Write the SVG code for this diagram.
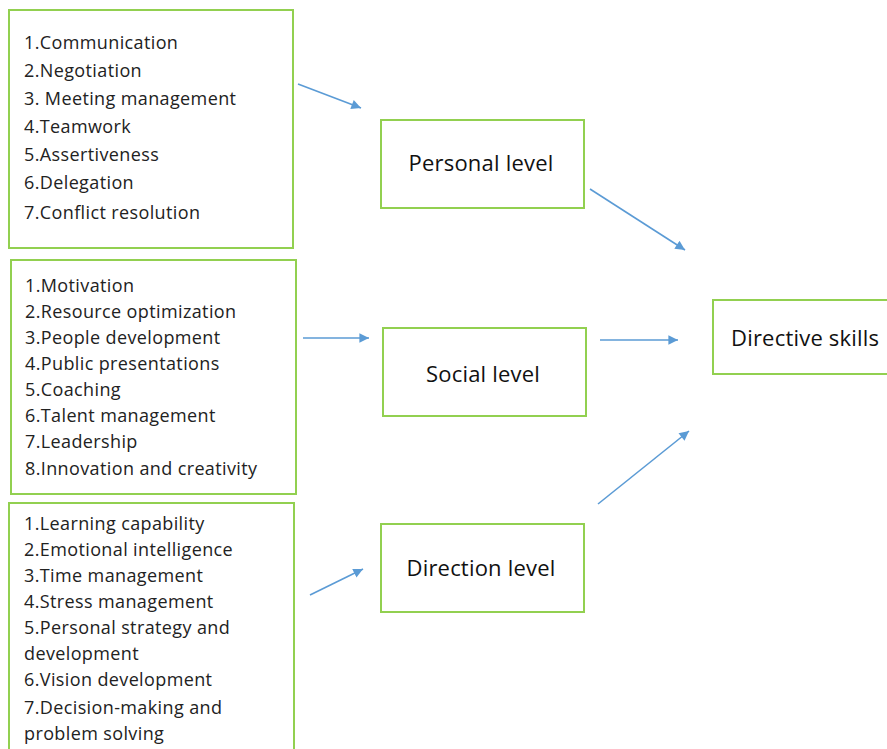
<svg xmlns="http://www.w3.org/2000/svg" width="887" height="749" viewBox="0 0 887 749">
  <defs>
    <marker id="arrowhead" viewBox="0 0 10 10" refX="10" refY="5" markerWidth="6.5" markerHeight="6" orient="auto" markerUnits="strokeWidth">
      <path d="M0,0 L10,5 L0,10 z" fill="#5B9BD5"/>
    </marker>
    <style>
      .box { fill: #ffffff; stroke: #92D050; stroke-width: 2; }
      .list { font-family: "Open Sans", "Noto Sans", sans-serif; font-size: 18px; letter-spacing: 0.38px; fill: #222222; }
      .label { font-family: "Open Sans", "Noto Sans", sans-serif; font-size: 22px; letter-spacing: 0.2px; fill: #111111; }
      .conn { stroke: #5B9BD5; stroke-width: 1.6; fill: none; marker-end: url(#arrowhead); }
    </style>
  </defs>
  <rect width="887" height="749" fill="#ffffff"/>

  <g id="personal-skills">
    <rect class="box" x="9" y="10" width="284" height="238"/>
    <text class="list" x="24" y="49">1.Communication</text>
    <text class="list" x="24" y="77">2.Negotiation</text>
    <text class="list" x="24" y="105">3. Meeting management</text>
    <text class="list" x="24" y="133">4.Teamwork</text>
    <text class="list" x="24" y="161">5.Assertiveness</text>
    <text class="list" x="24" y="189">6.Delegation</text>
    <text class="list" x="24" y="219">7.Conflict resolution</text>
  </g>

  <g id="social-skills">
    <rect class="box" x="11" y="260" width="285" height="234"/>
    <text class="list" x="25" y="292">1.Motivation</text>
    <text class="list" x="25" y="318">2.Resource optimization</text>
    <text class="list" x="25" y="344">3.People development</text>
    <text class="list" x="25" y="370">4.Public presentations</text>
    <text class="list" x="25" y="396">5.Coaching</text>
    <text class="list" x="25" y="422">6.Talent management</text>
    <text class="list" x="25" y="448">7.Leadership</text>
    <text class="list" x="25" y="475">8.Innovation and creativity</text>
  </g>

  <g id="direction-skills">
    <rect class="box" x="9" y="503" width="285" height="260"/>
    <text class="list" x="24" y="530">1.Learning capability</text>
    <text class="list" x="24" y="556">2.Emotional intelligence</text>
    <text class="list" x="24" y="582">3.Time management</text>
    <text class="list" x="24" y="608">4.Stress management</text>
    <text class="list" x="24" y="634">5.Personal strategy and</text>
    <text class="list" x="24" y="660">development</text>
    <text class="list" x="24" y="686">6.Vision development</text>
    <text class="list" x="24" y="714">7.Decision-making and</text>
    <text class="list" x="24" y="740">problem solving</text>
  </g>

  <g id="personal-level">
    <rect class="box" x="381" y="120" width="203" height="88"/>
    <text class="label" x="481" y="171" text-anchor="middle">Personal level</text>
  </g>

  <g id="social-level">
    <rect class="box" x="383" y="328" width="203" height="88"/>
    <text class="label" x="483" y="382" text-anchor="middle">Social level</text>
  </g>

  <g id="direction-level">
    <rect class="box" x="381" y="524" width="203" height="88"/>
    <text class="label" x="481" y="576" text-anchor="middle">Direction level</text>
  </g>

  <g id="directive-skills">
    <rect class="box" x="713" y="300" width="180" height="74"/>
    <text class="label" x="731" y="346">Directive skills</text>
  </g>

  <g id="connectors">
    <line class="conn" x1="298" y1="84" x2="361" y2="108"/>
    <line class="conn" x1="303" y1="338" x2="369" y2="338"/>
    <line class="conn" x1="310" y1="595" x2="363" y2="569"/>
    <line class="conn" x1="590" y1="189" x2="685" y2="250"/>
    <line class="conn" x1="600" y1="340" x2="678" y2="340"/>
    <line class="conn" x1="598" y1="504" x2="689" y2="431"/>
  </g>
</svg>
